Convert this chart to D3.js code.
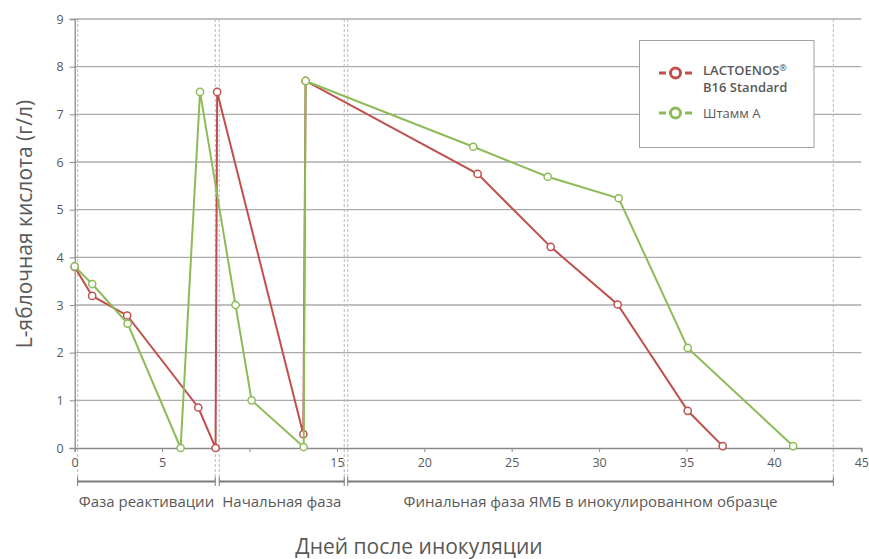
<!DOCTYPE html>
<html>
<head>
<meta charset="utf-8">
<script src="https://cdn.jsdelivr.net/npm/d3@7/dist/d3.min.js"></script>
<style>
  html, body { margin: 0; padding: 0; background: #fff; }
  svg { display: block; font-family: "Open Sans", "Noto Sans", sans-serif; }
</style>
</head>
<body>
<svg id="chart" width="869" height="559"></svg>
<script>
// ---- data ----
const seriesNames = ["LACTOENOS|B16 Standard", "Штамм A"];
const daysLact = [0, 1, 3, 7.07, 8.06, 8.15, 13.08, 13.21, 23.05, 27.23, 31.06, 35.07, 37.07];
const valsLact = [3.8, 3.19, 2.78, 0.85, 0, 7.47, 0.29, 7.7, 5.75, 4.22, 3.01, 0.78, 0.04];
const daysStrain = [0, 1, 3.03, 6.06, 7.17, 9.2, 10.12, 13.1, 13.21, 22.8, 27.06, 31.12, 35.07, 41.1];
const valsStrain = [3.81, 3.44, 2.61, 0, 7.47, 3.0, 1.0, 0.02, 7.7, 6.32, 5.69, 5.24, 2.1, 0.04];
const xTicks = [0, 5, 15, 20, 25, 30, 35, 40, 45];
const xMinorTicks = [10];
const yTicks = [0, 1, 2, 3, 4, 5, 6, 7, 8, 9];
const phaseNames = ["Фаза реактивации", "Начальная фаза", "Финальная фаза ЯМБ в инокулированном образце"];
const phaseStart = [0.17, 8.27, 15.62];
const phaseEnd = [8.04, 15.42, 43.4];
const colors = ["#c0504d", "#8cbb58"];
const xTitle = "Дней после инокуляции";
const yTitle = "L-яблочная кислота (г/л)";

// ---- layout ----
const svg = d3.select("#chart");
const x = d3.scaleLinear().domain([0, 45]).range([74.7, 861.3]);
const y = d3.scaleLinear().domain([0, 9]).range([448, 19]);

// gridlines
svg.append("g").selectAll("line").data(yTicks.filter(d => d > 0)).join("line")
  .attr("x1", x(0)).attr("x2", x(45))
  .attr("y1", d => y(d)).attr("y2", d => y(d))
  .attr("stroke", "#ababab").attr("stroke-width", 1.3);

// dashed phase boundaries
const dashX = [];
phaseStart.forEach(d => dashX.push(d));
phaseEnd.forEach(d => dashX.push(d));
svg.append("g").selectAll("line").data(dashX).join("line")
  .attr("x1", d => x(d)).attr("x2", d => x(d))
  .attr("y1", y(9)).attr("y2", 481)
  .attr("stroke", "#b8b8b8").attr("stroke-width", 1).attr("stroke-dasharray", "3,2");

// axes
const xAxis = d3.axisBottom(x).tickValues(xTicks.concat(xMinorTicks)).tickSize(4)
  .tickFormat(d => xMinorTicks.includes(d) ? "" : d);
const gx = svg.append("g").attr("transform", `translate(0,${y(0)})`).call(xAxis);
gx.select(".domain").attr("stroke", "#8a8a8a").attr("stroke-width", 1.3);
gx.selectAll(".tick line").attr("stroke", "#8a8a8a");
gx.selectAll(".tick text").attr("fill", "#595959").attr("font-size", 12.5)
  .attr("font-family", "'Open Sans', sans-serif").attr("dy", "0.95em");

const yAxis = d3.axisLeft(y).tickValues(yTicks).tickSize(5).tickPadding(6);
const gy = svg.append("g").attr("transform", `translate(${x(0)},0)`).call(yAxis);
gy.select(".domain").attr("stroke", "#8a8a8a").attr("stroke-width", 1.3);
gy.selectAll(".tick line").attr("stroke", "#8a8a8a");
gy.selectAll(".tick text").attr("fill", "#595959").attr("font-size", 12.5)
  .attr("font-family", "'Open Sans', sans-serif");

// series
const series = [
  daysLact.map((d, i) => [d, valsLact[i]]),
  daysStrain.map((d, i) => [d, valsStrain[i]])
];
const line = d3.line().x(d => x(d[0])).y(d => y(d[1]));
series.forEach((s, i) => {
  const g = svg.append("g");
  g.append("path").datum(s).attr("d", line).attr("fill", "none")
    .attr("stroke", colors[i]).attr("stroke-width", 2);
  g.selectAll("circle").data(s).join("circle")
    .attr("cx", d => x(d[0])).attr("cy", d => y(d[1])).attr("r", 3.6)
    .attr("fill", "#fff").attr("stroke", colors[i]).attr("stroke-width", 1.5);
});

// phase brackets
const pg = svg.append("g");
phaseNames.forEach((name, i) => {
  const x1 = x(phaseStart[i]), x2 = x(phaseEnd[i]);
  pg.append("line").attr("x1", x1).attr("x2", x2).attr("y1", 481.5).attr("y2", 481.5)
    .attr("stroke", "#7a7a7a").attr("stroke-width", 2);
  [x1, x2].forEach(xx => pg.append("line").attr("x1", xx).attr("x2", xx)
    .attr("y1", 477).attr("y2", 486).attr("stroke", "#7a7a7a").attr("stroke-width", 1));
  pg.append("text").attr("x", (x1 + x2) / 2).attr("y", 506.5)
    .attr("text-anchor", "middle").attr("font-size", 15).attr("fill", "#595959")
    .text(name);
});

// axis titles
svg.append("text").attr("x", 419).attr("y", 554).attr("text-anchor", "middle")
  .attr("font-size", 21).attr("fill", "#595959").text(xTitle);
svg.append("text").attr("transform", `translate(32,224) rotate(-90)`)
  .attr("text-anchor", "middle").attr("font-size", 21).attr("fill", "#595959").text(yTitle);

// legend
const lg = svg.append("g");
lg.append("rect").attr("x", 639.5).attr("y", 40.5).attr("width", 174.5).attr("height", 107)
  .attr("fill", "#fff").attr("stroke", "#a0a0a0").attr("stroke-width", 1);
const legY = [73, 113];
seriesNames.forEach((nm, i) => {
  const cy = legY[i];
  lg.append("line").attr("x1", 659).attr("x2", 692).attr("y1", cy).attr("y2", cy)
    .attr("stroke", colors[i]).attr("stroke-width", 3);
  lg.append("rect").attr("x", 666).attr("y", cy - 8).attr("width", 19).attr("height", 16).attr("fill", "#fff");
  lg.append("circle").attr("cx", 675.5).attr("cy", cy).attr("r", 5)
    .attr("fill", "#fff").attr("stroke", colors[i]).attr("stroke-width", 3);
  const parts = nm.split("|");
  parts.forEach((p, j) => {
    const t = lg.append("text").attr("x", 703).attr("y", cy + 5 - (parts.length > 1 ? 3 : 0) + j * 17)
      .attr("font-size", 13).attr("fill", "#595959")
      .attr("font-weight", parts.length > 1 ? 600 : 400);
    t.append("tspan").text(p);
    if (parts.length > 1 && j === 0) {
      t.append("tspan").attr("font-size", 9).attr("dy", -4).text("®");
    }
  });
});
</script>
</body>
</html>
